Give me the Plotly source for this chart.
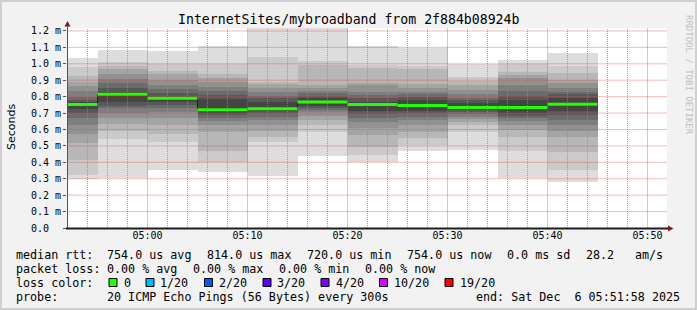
import plotly.graph_objects as go
from datetime import datetime, timedelta

# ---------------- data (values in milliseconds) ----------------
title_text = "InternetSites/mybroadband from 2f884b08924b"
interval_start = ["2025-12-06 04:50", "2025-12-06 04:55", "2025-12-06 05:00",
                  "2025-12-06 05:05", "2025-12-06 05:10", "2025-12-06 05:15",
                  "2025-12-06 05:20", "2025-12-06 05:25", "2025-12-06 05:30",
                  "2025-12-06 05:35", "2025-12-06 05:40"]
median_rtt = [0.752, 0.814, 0.790, 0.720, 0.726, 0.768, 0.752, 0.746, 0.734, 0.734, 0.754]

# 20 sorted ping RTTs per 5-minute interval
pings_0450 = [0.300, 0.323, 0.414, 0.516, 0.572, 0.627, 0.668, 0.699, 0.722, 0.745,
              0.760, 0.768, 0.780, 0.800, 0.836, 0.865, 0.890, 0.926, 0.982, 1.037]
pings_0455 = [0.302, 0.542, 0.591, 0.633, 0.668, 0.698, 0.729, 0.745, 0.765, 0.800,
              0.820, 0.828, 0.851, 0.881, 0.907, 0.936, 0.966, 0.989, 1.013, 1.084]
pings_0500 = [0.353, 0.526, 0.574, 0.627, 0.672, 0.704, 0.729, 0.749, 0.770, 0.782,
              0.797, 0.804, 0.820, 0.847, 0.871, 0.901, 0.936, 0.956, 0.997, 1.078]
pings_0505 = [0.343, 0.404, 0.471, 0.587, 0.627, 0.652, 0.672, 0.688, 0.702, 0.712,
              0.728, 0.786, 0.810, 0.834, 0.861, 0.887, 0.911, 0.936, 0.997, 1.108]
pings_0510 = [0.317, 0.526, 0.552, 0.591, 0.627, 0.658, 0.678, 0.698, 0.710, 0.720,
              0.732, 0.769, 0.790, 0.806, 0.830, 0.851, 0.875, 0.891, 1.043, 1.250]
pings_0515 = [0.440, 0.583, 0.627, 0.658, 0.684, 0.704, 0.719, 0.733, 0.745, 0.760,
              0.776, 0.794, 0.806, 0.820, 0.834, 0.851, 0.871, 0.993, 1.017, 1.250]
pings_0520 = [0.400, 0.445, 0.495, 0.566, 0.611, 0.648, 0.672, 0.692, 0.713, 0.745,
              0.760, 0.769, 0.790, 0.810, 0.830, 0.871, 0.881, 0.972, 0.993, 1.108]
pings_0525 = [0.469, 0.505, 0.546, 0.587, 0.627, 0.658, 0.678, 0.698, 0.713, 0.738,
              0.754, 0.780, 0.800, 0.816, 0.830, 0.855, 0.875, 0.968, 0.989, 1.094]
pings_0530 = [0.475, 0.587, 0.627, 0.648, 0.664, 0.678, 0.692, 0.704, 0.717, 0.727,
              0.741, 0.759, 0.780, 0.794, 0.814, 0.840, 0.871, 0.895, 0.922, 0.997]
pings_0535 = [0.306, 0.469, 0.556, 0.597, 0.627, 0.652, 0.668, 0.684, 0.698, 0.727,
              0.741, 0.780, 0.806, 0.834, 0.871, 0.911, 0.932, 0.952, 0.997, 1.023]
pings_0540 = [0.278, 0.353, 0.465, 0.556, 0.591, 0.627, 0.658, 0.688, 0.713, 0.745,
              0.762, 0.790, 0.814, 0.830, 0.855, 0.881, 0.901, 0.942, 0.989, 1.068]

y_tickvals = [0.0, 0.1, 0.2, 0.3, 0.4, 0.5, 0.6, 0.7, 0.8, 0.9, 1.0, 1.1, 1.2]
y_ticktext = ["0.0\u00a0\u00a0", "0.1 m", "0.2 m", "0.3 m", "0.4 m", "0.5 m", "0.6 m",
              "0.7 m", "0.8 m", "0.9 m", "1.0 m", "1.1 m", "1.2 m"]
x_tickvals = ["2025-12-06 05:00", "2025-12-06 05:10", "2025-12-06 05:20",
              "2025-12-06 05:30", "2025-12-06 05:40", "2025-12-06 05:50"]
x_start = "2025-12-06 04:51:57"
x_end = "2025-12-06 05:51:57"

rtt_fields = ["median rtt:", "754.0 us avg", "814.0 us max", "720.0 us min",
              "754.0 us now", "0.0 ms sd", "28.2", "am/s"]
loss_fields = ["packet loss:", "0.00 % avg", "0.00 % max", "0.00 % min", "0.00 % now"]
probe_fields = ["probe:", "20 ICMP Echo Pings (56 Bytes) every 300s"]
end_text = "end: Sat Dec  6 05:51:58 2025"
loss_labels = ["0", "1/20", "2/20", "3/20", "4/20", "10/20", "19/20"]
loss_colors = ["#26ff00", "#00b8ff", "#0059ff", "#5e00ff", "#7e00ff", "#dd00ff", "#ff0000"]

# ---------------- layout constants (pixels) ----------------
W, H = 697, 310
ML, MR, MT, MB = 67, 30, 28, 82
PW, PH = W - ML - MR, H - MT - MB
MONO = "DejaVu Sans Mono"
LEG_SIZE = 11.7
rtt_x = [16, 107, 207, 307, 407, 507, 586, 635]
loss_x = [16, 107, 193, 279, 365]
probe_x = [16, 107]
box_x = [109, 146, 204.5, 263, 321, 379.5, 445]
lab_x = [124, 160, 218.5, 277, 335.5, 393.5, 459.5]
row_y = [254.5, 268.5, 282.5, 296.5]
MAJOR_GRID = "rgba(222,79,79,0.38)"
MINOR_GRID = "rgba(143,143,143,0.8)"


def px(xp):
    return (xp - ML) / PW


def py(yp):
    return (MT + PH - yp) / PH


all_pings = [pings_0450, pings_0455, pings_0500, pings_0505, pings_0510, pings_0515,
             pings_0520, pings_0525, pings_0530, pings_0535, pings_0540]
starts = [datetime.strptime(s, "%Y-%m-%d %H:%M") for s in interval_start]
step = timedelta(minutes=5)
centers = [s + step / 2 for s in starts]
ymax = PH / 164.2

fig = go.Figure()
n = 20
half = n // 2
for i in range(1, half + 1):
    g = int(190 / half * (half - i)) + 50
    col = "#%02x%02x%02x" % (g, g, g)
    lo = [p[i - 1] for p in all_pings]
    hi = [p[n - i] for p in all_pings]
    fig.add_trace(go.Bar(x=centers, y=[h - l for h, l in zip(hi, lo)], base=lo,
                         width=[300000] * len(centers), marker=dict(color=col, line=dict(width=0)),
                         hoverinfo="skip", showlegend=False))

# dark median step line
sx = starts + [starts[-1] + step]
sy = median_rtt + [median_rtt[-1]]
fig.add_trace(go.Scatter(x=sx, y=sy, mode="lines", line=dict(color="#202020", width=1, shape="hv"),
                         hoverinfo="skip", showlegend=False))
# green median segments (0 loss)
gx, gy = [], []
for s, m in zip(starts, median_rtt):
    gx += [s, s + step, None]
    gy += [m, m, None]
fig.add_trace(go.Scatter(x=gx, y=gy, mode="lines", line=dict(color=loss_colors[0], width=3),
                         hoverinfo="skip", showlegend=False))

# grid drawn above the smoke (as rrdtool does)
t0 = datetime.strptime(x_start, "%Y-%m-%d %H:%M:%S")
t1 = datetime.strptime(x_end, "%Y-%m-%d %H:%M:%S")
minor_x, minor_y = [], []
t = datetime(2025, 12, 6, 4, 52)
while t < t1:
    if t > t0 and t.minute % 10 != 0:
        minor_x += [t, t, None]
        minor_y += [0, ymax, None]
    t += timedelta(minutes=2)
fig.add_trace(go.Scatter(x=minor_x, y=minor_y, mode="lines", hoverinfo="skip", showlegend=False,
                         line=dict(color=MINOR_GRID, width=1, dash="1px,1px")))
vx, vy = [], []
for tv in x_tickvals:
    tt = datetime.strptime(tv, "%Y-%m-%d %H:%M")
    vx += [tt, tt, None]
    vy += [0, ymax, None]
fig.add_trace(go.Scatter(x=vx, y=vy, mode="lines", hoverinfo="skip", showlegend=False,
                         line=dict(color=MAJOR_GRID, width=1)))
hx, hy = [], []
for v in y_tickvals[1:]:
    hx += [t0, t1, None]
    hy += [v, v, None]
fig.add_trace(go.Scatter(x=hx, y=hy, mode="lines", hoverinfo="skip", showlegend=False,
                         line=dict(color=MAJOR_GRID, width=1)))

shapes = []


def path(pts):
    return "M " + " L ".join("%f,%f" % (px(a), py(b)) for a, b in pts) + " Z"


shapes.append(dict(type="line", xref="paper", yref="paper", x0=px(67.5), x1=px(67.5), y0=py(228), y1=py(23),
                   line=dict(color="#555555", width=1), layer="above"))
shapes.append(dict(type="line", xref="paper", yref="paper", x0=px(66), x1=px(669), y0=py(228.5), y1=py(228.5),
                   line=dict(color="#1f1f1f", width=2), layer="above"))
shapes.append(dict(type="path", xref="paper", yref="paper", path=path([(64.5, 26.5), (70.5, 26.5), (67.5, 21)]),
                   fillcolor="#7f1f1f", line=dict(width=0), layer="above"))
shapes.append(dict(type="path", xref="paper", yref="paper", path=path([(668, 225.5), (668, 231.5), (673.5, 228.5)]),
                   fillcolor="#7f1f1f", line=dict(width=0), layer="above"))
shapes.append(dict(type="rect", xref="paper", yref="paper", x0=px(1), x1=px(W - 1), y0=py(1), y1=py(H - 1),
                   line=dict(color="#cfcfcf", width=2), layer="below"))

annotations = []


def nb(s):
    return s.replace(" ", "\u00a0")


def text_at(txt, xx, yy, anchor="left"):
    annotations.append(dict(text=nb(txt), xref="paper", yref="paper", x=px(xx), y=py(yy),
                            xanchor=anchor, yanchor="middle", showarrow=False, borderpad=0,
                            font=dict(family=MONO, size=LEG_SIZE, color="#000000")))


for txt, xx in zip(rtt_fields, rtt_x):
    text_at(txt, xx - 1, row_y[0])
for txt, xx in zip(loss_fields, loss_x):
    text_at(txt, xx - 1, row_y[1])
text_at("loss color:", 15, row_y[2])
for lab, col, bx, lx in zip(loss_labels, loss_colors, box_x, lab_x):
    shapes.append(dict(type="rect", xref="paper", yref="paper", x0=px(bx), x1=px(bx + 8),
                       y0=py(278.5), y1=py(286.5), fillcolor=col, line=dict(color="#000000", width=1)))
    text_at(lab, lx - 1, row_y[2])
for txt, xx in zip(probe_fields, probe_x):
    text_at(txt, xx - 1, row_y[3])
text_at(end_text, 681, row_y[3], anchor="right")

annotations.append(dict(text=title_text, xref="paper", yref="paper", x=px(348), y=py(19.5),
                        xanchor="center", yanchor="middle", showarrow=False,
                        font=dict(family=MONO, size=13.2, color="#000000")))
annotations.append(dict(text="Seconds", xref="paper", yref="paper", x=px(11), y=py(127),
                        xanchor="center", yanchor="middle", showarrow=False, textangle=-90,
                        font=dict(family="DejaVu Sans", size=11, color="#000000")))
annotations.append(dict(text="RRDTOOL / TOBI OETIKER", xref="paper", yref="paper", x=px(689), y=py(75),
                        xanchor="center", yanchor="middle", showarrow=False, textangle=90,
                        font=dict(family=MONO, size=9, color="#c0c0c0")))

fig.update_layout(
    width=W, height=H, margin=dict(l=ML, r=MR, t=MT, b=MB, pad=0),
    paper_bgcolor="#f2f2f2", plot_bgcolor="#ffffff",
    barmode="overlay", bargap=0, showlegend=False,
    shapes=shapes, annotations=annotations,
    font=dict(family=MONO, size=10, color="#000000"),
    xaxis=dict(type="date", range=[x_start, x_end], zeroline=False, showgrid=False,
               tickvals=x_tickvals, tickformat="%H:%M", ticks="", showline=False, automargin=False,
               tickfont=dict(family=MONO, size=10, color="#000000")),
    yaxis=dict(range=[0, ymax], zeroline=False, automargin=False, showgrid=False,
               tickvals=y_tickvals, ticktext=y_ticktext, ticks="outside", ticklen=3,
               tickcolor="#555555", showline=False,
               tickfont=dict(family=MONO, size=10, color="#000000")),
)

fig.write_html("out.html")
